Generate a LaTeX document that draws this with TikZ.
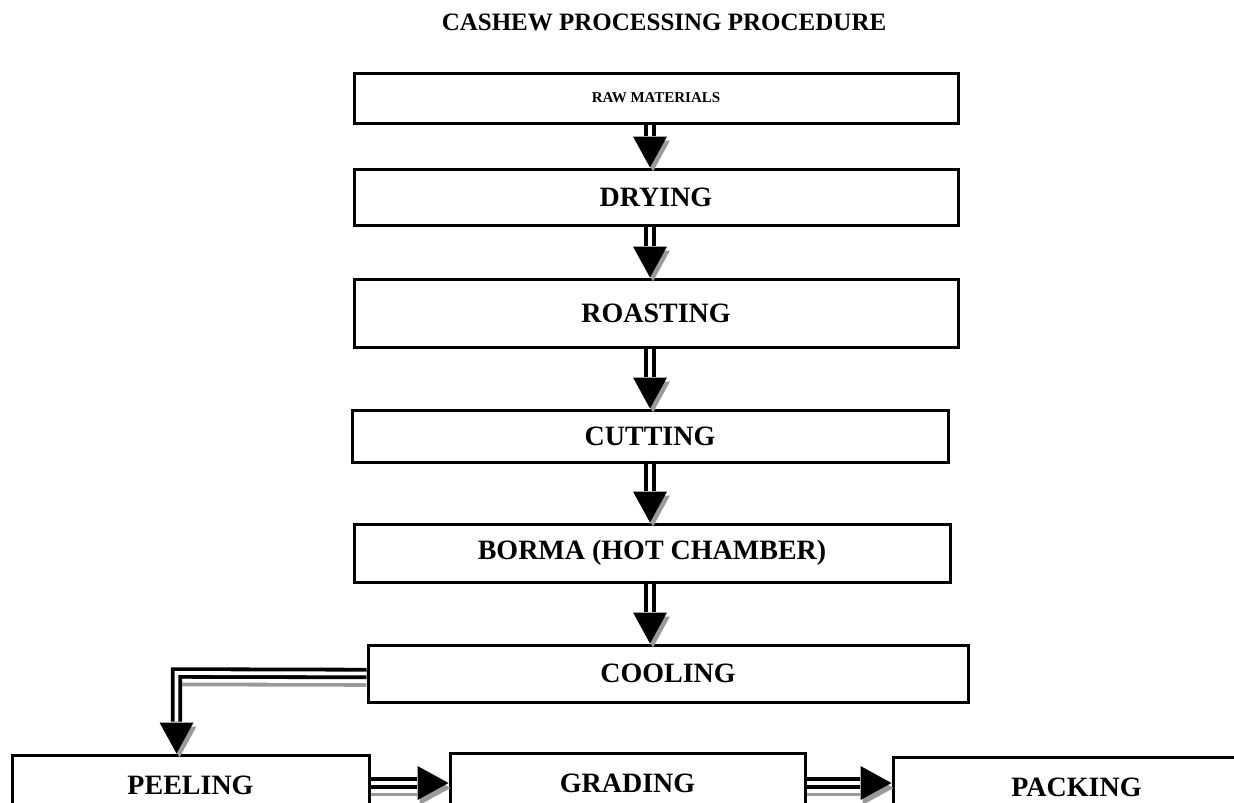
\documentclass[tikz,border=0pt]{standalone}
\usepackage{fontspec}
\setmainfont{Liberation Serif}
\usetikzlibrary{calc}
\definecolor{shade}{HTML}{9A9A9A}
\tikzset{
  box/.style={draw=black, line width=3pt, fill=white, inner sep=0pt,
    font=\bfseries\fontsize{28}{30}\selectfont},
  smalltext/.style={font=\bfseries\fontsize{15}{17}\selectfont},
  titletext/.style={font=\bfseries\fontsize{25}{27}\selectfont, inner sep=0pt},
  shaft/.style={draw=black, line width=3.8pt, double=white, double distance=3.8pt},
  shaftshadow/.style={draw=shade, line width=3.8pt, double=white, double distance=3.8pt},
  head/.style={fill=black},
  headshadow/.style={fill=shade},
}
% #1 start, #2 tip, #3 head shadow shift, #4 shaft shadow shift
\newcommand\farrow[4]{%
  \coordinate (fh) at ($(#2)!31pt!(#1)$);
  \coordinate (fl) at ($(fh)!17pt!90:(#2)$);
  \coordinate (fr) at ($(fh)!17pt!-90:(#2)$);
  \begin{scope}[transform canvas={shift={#4}}]
    \draw[shaftshadow] (#1) -- ($(fh)!-1pt!(#2)$);
  \end{scope}
  \begin{scope}[transform canvas={shift={#3}}]
    \fill[headshadow] (#2) -- (fl) -- (fr) -- cycle;
  \end{scope}
  \draw[shaft] (#1) -- ($(fh)!-1pt!(#2)$);
  \fill[head] (#2) -- (fl) -- (fr) -- cycle;
}
\begin{document}
\begin{tikzpicture}[x=1pt, y=-1pt]
  \useasboundingbox (0,0) rectangle (1234,803);
  \clip (0,0) rectangle (1234,803);
  \fill[white] (0,0) rectangle (1234,803);

  \node[titletext] (title) at (664,22) {CASHEW PROCESSING PROCEDURE};

  \node[box, smalltext, minimum width=604pt, minimum height=50pt] (b1) at (656,98) {RAW MATERIALS};
  \node[box, minimum width=604pt, minimum height=56pt] (b2) at (656,197) {DRYING};
  \node[box, minimum width=604pt, minimum height=68pt] (b3) at (656,313) {ROASTING};
  \node[box, minimum width=596pt, minimum height=52pt] (b4) at (650,436) {CUTTING};
  \node[box, minimum width=596pt, minimum height=58pt] (b5) at (652,553) {BORMA (HOT CHAMBER)};
  \node[box, minimum width=600pt, minimum height=57pt] (b6) at (668,673.5) {COOLING};
  \node[box, minimum width=357pt, minimum height=60pt] (peel) at (190.5,785) {PEELING};
  \node[box, minimum width=355pt, minimum height=60pt] (grade) at (627.5,783) {GRADING};
  \node[box, minimum width=367pt, minimum height=60pt] (pack) at (1076.5,787) {PACKING};

  \coordinate (ax) at (650,0);
  \coordinate (ay) at (0,783);
  \coordinate (elb) at (176.5,673);

  \coordinate (s1) at (b1.south -| ax); \coordinate (t1) at (b2.north -| ax);
  \coordinate (s2) at (b2.south -| ax); \coordinate (t2) at (b3.north -| ax);
  \coordinate (s3) at (b3.south -| ax); \coordinate (t3) at (b4.north -| ax);
  \coordinate (s4) at (b4.south -| ax); \coordinate (t4) at (b5.north -| ax);
  \coordinate (s5) at (b5.south -| ax); \coordinate (t5) at (b6.north -| ax);
  \coordinate (s6) at (peel.east |- ay); \coordinate (t6) at (grade.west |- ay);
  \coordinate (s7) at (grade.east |- ay); \coordinate (t7) at (pack.west |- ay);
  \coordinate (t8) at (peel.north -| elb);

  \farrow{s1}{t1}{(3pt,-4pt)}{(0pt,0pt)}
  \farrow{s2}{t2}{(3pt,-4pt)}{(0pt,0pt)}
  \farrow{s3}{t3}{(3pt,-4pt)}{(0pt,0pt)}
  \farrow{s4}{t4}{(3pt,-4pt)}{(0pt,0pt)}
  \farrow{s5}{t5}{(3pt,-4pt)}{(0pt,0pt)}
  \farrow{s6}{t6}{(2pt,-5pt)}{(0pt,-7.6pt)}
  \farrow{s7}{t7}{(2pt,-5pt)}{(0pt,-7.6pt)}

  % elbow from cooling to peeling
  \coordinate (eh) at ($(t8)+(0,-31)$);
  \begin{scope}[transform canvas={shift={(0pt,-7.6pt)}}]
    \draw[shaftshadow] (b6.west) -- (elb);
  \end{scope}
  \begin{scope}[transform canvas={shift={(3pt,-4pt)}}]
    \fill[headshadow] (t8) -- ($(eh)+(-17,0)$) -- ($(eh)+(17,0)$) -- cycle;
  \end{scope}
  \draw[shaft] (b6.west) -- (elb) -- ($(eh)+(0,-1)$);
  \fill[head] (t8) -- ($(eh)+(-17,0)$) -- ($(eh)+(17,0)$) -- cycle;
\end{tikzpicture}
\end{document}
